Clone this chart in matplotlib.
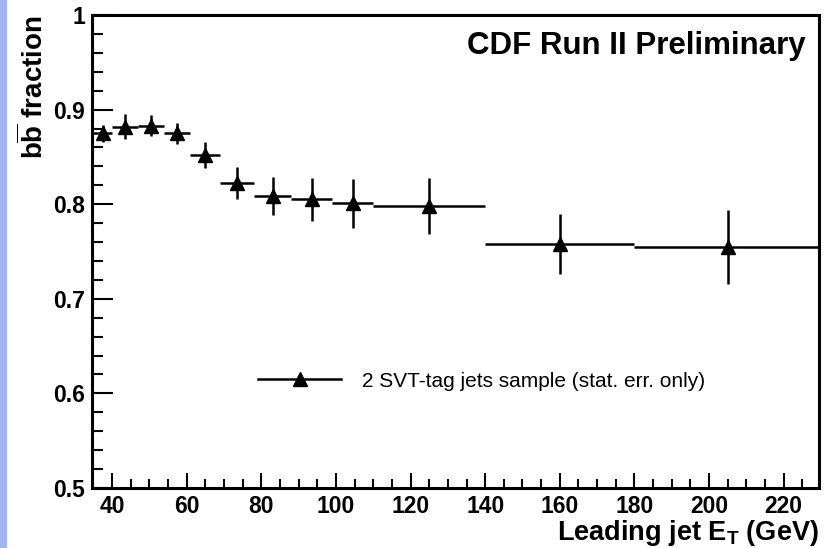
import matplotlib
matplotlib.use("Agg")
import numpy as np
from matplotlib import pyplot as plt
from matplotlib.ticker import MultipleLocator
from matplotlib.patches import Rectangle
from matplotlib.lines import Line2D

# bin edges (GeV) and bb fraction per bin
bin_edges = [35, 40, 47, 54, 61, 69, 78, 88, 99, 110, 140, 180, 230]
bb_frac = [0.875, 0.882, 0.883, 0.875, 0.852, 0.822, 0.809, 0.805, 0.801, 0.798, 0.758, 0.755]
bb_err = [0.009, 0.013, 0.011, 0.011, 0.014, 0.017, 0.020, 0.023, 0.026, 0.030, 0.032, 0.039]

legend_label = "2 SVT-tag jets sample (stat. err. only)"
header = "CDF Run II Preliminary"

plt.rcParams['font.family'] = ['Liberation Sans', 'DejaVu Sans']
plt.rcParams['mathtext.fontset'] = 'custom'
plt.rcParams['mathtext.rm'] = 'Liberation Sans:bold'
plt.rcParams['mathtext.bf'] = 'Liberation Sans:bold'
plt.rcParams['mathtext.it'] = 'Liberation Sans:bold'

edges = np.array(bin_edges, dtype=float)
x = 0.5 * (edges[1:] + edges[:-1])
xerr = 0.5 * (edges[1:] - edges[:-1])

fig = plt.figure(figsize=(8.24, 5.48), dpi=100)
# light blue strip on the left edge of the slide
fig.patches.append(Rectangle((0, 0), 7 / 824, 1, transform=fig.transFigure,
                             facecolor='#a4b4ee', edgecolor='none'))
ax = fig.add_axes([92 / 824, 1 - 488 / 548, (819 - 92) / 824, (488 - 15) / 548])

ax.errorbar(x, bb_frac, xerr=xerr, yerr=bb_err, fmt='^', color='black',
            ms=9.5, elinewidth=1.8, capsize=0)

ax.set_xlim(34.6, 229.5)
ax.set_ylim(0.5, 1.0)

ax.xaxis.set_major_locator(MultipleLocator(20))
ax.xaxis.set_minor_locator(MultipleLocator(5))
ax.yaxis.set_minor_locator(MultipleLocator(0.02))
ax.set_yticks([0.5, 0.6, 0.7, 0.8, 0.9, 1.0])
ax.set_yticklabels(['0.5', '0.6', '0.7', '0.8', '0.9', '1'])

ax.tick_params(axis='both', which='both', direction='in', width=1.5,
               top=False, right=False, labelsize=16.5)
ax.tick_params(axis='y', which='major', length=15, pad=5)
ax.tick_params(axis='y', which='minor', length=8)
ax.tick_params(axis='x', which='major', length=11, pad=5)
ax.tick_params(axis='x', which='minor', length=6.5)
for lab in ax.get_xticklabels() + ax.get_yticklabels():
    lab.set_fontweight('bold')

for sp in ax.spines.values():
    sp.set_linewidth(2.2)

ax.set_xlabel(r'Leading jet $\mathbf{E_T}$ (GeV)', fontsize=19.5,
              fontweight='bold', loc='right', labelpad=0)
ax.set_ylabel(r'$\mathbf{b\overline{b}}$ fraction', fontsize=20,
              fontweight='bold', loc='top', labelpad=3)

ax.text(0.982, 0.935, header, transform=ax.transAxes, ha='right', va='center',
        fontsize=22.5, fontweight='bold')

handle = Line2D([], [], color='black', lw=1.8, marker='^', ms=9.5)
ax.legend([handle], [legend_label], loc='center left',
          bbox_to_anchor=(0.217, 0.226), frameon=False, fontsize=15,
          handlelength=4.0, handletextpad=1.0, borderaxespad=0)

fig.savefig('out.png', dpi=100)
